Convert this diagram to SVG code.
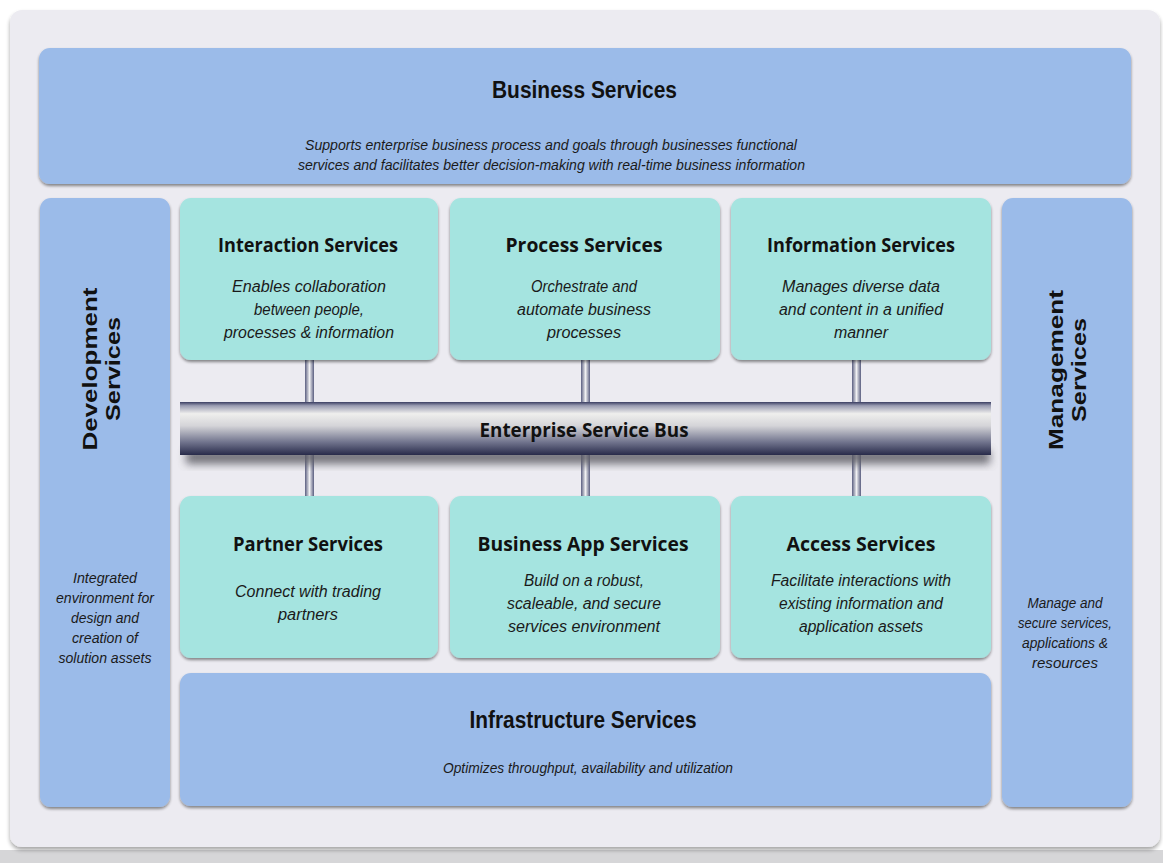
<svg xmlns="http://www.w3.org/2000/svg" width="1163" height="863" viewBox="0 0 1163 863">
  <style>
    .blue { fill: #9bbbe9; }
    .teal { fill: #a5e4e0; }
    .box { filter: url(#boxShadow); }
    .title { font-family: "Liberation Sans", Arial, sans-serif; font-weight: bold; fill: #111; text-anchor: middle; }
    .stitle { font-family: "Open Sans", "Liberation Sans", sans-serif; font-weight: bold; fill: #111; text-anchor: middle; }
    .desc { font-family: "Liberation Sans", Arial, sans-serif; font-style: italic; fill: #1a1a1a; text-anchor: middle; }
  </style>
  <defs>
    <filter id="boxShadow" x="-5%" y="-5%" width="110%" height="115%">
      <feGaussianBlur in="SourceAlpha" stdDeviation="1.5"/>
      <feOffset dx="0" dy="2" result="b"/>
      <feComponentTransfer><feFuncA type="linear" slope="0.45"/></feComponentTransfer>
      <feMerge><feMergeNode/><feMergeNode in="SourceGraphic"/></feMerge>
    </filter>
    <filter id="panelShadow" x="-2%" y="-2%" width="104%" height="106%">
      <feGaussianBlur in="SourceAlpha" stdDeviation="2"/>
      <feOffset dx="0" dy="3"/>
      <feComponentTransfer><feFuncA type="linear" slope="0.35"/></feComponentTransfer>
      <feMerge><feMergeNode/><feMergeNode in="SourceGraphic"/></feMerge>
    </filter>
    <filter id="busShadow" x="-2%" y="-50%" width="104%" height="200%">
      <feGaussianBlur stdDeviation="4"/>
    </filter>
    <linearGradient id="busGrad" x1="0" y1="0" x2="0" y2="1">
      <stop offset="0" stop-color="#3a3e62"/>
      <stop offset="0.07" stop-color="#9a9cb2"/>
      <stop offset="0.22" stop-color="#efefed"/>
      <stop offset="0.45" stop-color="#d4d4d8"/>
      <stop offset="0.75" stop-color="#73768f"/>
      <stop offset="1" stop-color="#282b4a"/>
    </linearGradient>
    <linearGradient id="pipeGrad" x1="0" y1="0" x2="1" y2="0">
      <stop offset="0" stop-color="#5a5e80"/>
      <stop offset="0.5" stop-color="#f0f0f2"/>
      <stop offset="1" stop-color="#5a5e80"/>
    </linearGradient>
  </defs>

  <!-- page and frame -->
  <rect x="0" y="0" width="1163" height="863" fill="#ffffff"/>
  <rect x="0" y="850" width="1163" height="13" fill="#d6d6d8"/>
  <rect x="10" y="10" width="1150" height="837" rx="12" fill="#ecebf1" filter="url(#panelShadow)"/>

  <!-- connectors: service bus and its taps -->
  <g id="connectors">
    <rect x="305" y="360" width="9" height="43" fill="url(#pipeGrad)"/>
    <rect x="581" y="360" width="9" height="43" fill="url(#pipeGrad)"/>
    <rect x="852" y="360" width="9" height="43" fill="url(#pipeGrad)"/>
    <rect x="305" y="455" width="9" height="42" fill="url(#pipeGrad)"/>
    <rect x="581" y="455" width="9" height="42" fill="url(#pipeGrad)"/>
    <rect x="852" y="455" width="9" height="42" fill="url(#pipeGrad)"/>
  </g>

  <g id="bus">
    <rect x="186" y="450" width="804" height="14" fill="#5f5f66" opacity="0.85" filter="url(#busShadow)"/>
    <rect x="180" y="402" width="811" height="53" fill="url(#busGrad)"/>
    <text class="stitle" x="584" y="437" font-size="19" textLength="209" lengthAdjust="spacingAndGlyphs">Enterprise Service Bus</text>
  </g>

  <g id="business-services">
    <rect class="blue box" x="39" y="48" width="1092" height="136" rx="11"/>
    <text class="title" x="584.5" y="98" font-size="23" textLength="185" lengthAdjust="spacingAndGlyphs">Business Services</text>
    <text class="desc" x="551" y="150" font-size="14" textLength="492" lengthAdjust="spacingAndGlyphs">Supports enterprise business process and goals through businesses functional</text>
    <text class="desc" x="551.5" y="170" font-size="14" textLength="507" lengthAdjust="spacingAndGlyphs">services and facilitates better decision-making with real-time business information</text>
  </g>

  <g id="development-services">
    <rect class="blue box" x="40" y="198" width="130" height="609" rx="11"/>
    <text class="title" transform="translate(97 369) rotate(-90)" font-size="21" textLength="163" lengthAdjust="spacingAndGlyphs">Development</text>
    <text class="title" transform="translate(120 369) rotate(-90)" font-size="21" textLength="104" lengthAdjust="spacingAndGlyphs">Services</text>
    <text class="desc" x="105" y="583" font-size="14" textLength="64" lengthAdjust="spacingAndGlyphs">Integrated</text>
    <text class="desc" x="105" y="603" font-size="14" textLength="98" lengthAdjust="spacingAndGlyphs">environment for</text>
    <text class="desc" x="105" y="623" font-size="14" textLength="68" lengthAdjust="spacingAndGlyphs">design and</text>
    <text class="desc" x="105" y="643" font-size="14" textLength="66" lengthAdjust="spacingAndGlyphs">creation of</text>
    <text class="desc" x="105" y="663" font-size="14" textLength="93" lengthAdjust="spacingAndGlyphs">solution assets</text>
  </g>

  <g id="management-services">
    <rect class="blue box" x="1002" y="198" width="130" height="609" rx="11"/>
    <text class="title" transform="translate(1063 370) rotate(-90)" font-size="21" textLength="160" lengthAdjust="spacingAndGlyphs">Management</text>
    <text class="title" transform="translate(1086 370) rotate(-90)" font-size="21" textLength="104" lengthAdjust="spacingAndGlyphs">Services</text>
    <text class="desc" x="1065" y="608" font-size="14" textLength="75" lengthAdjust="spacingAndGlyphs">Manage and</text>
    <text class="desc" x="1065" y="628" font-size="14" textLength="94" lengthAdjust="spacingAndGlyphs">secure services,</text>
    <text class="desc" x="1065" y="648" font-size="14" textLength="86" lengthAdjust="spacingAndGlyphs">applications &amp;</text>
    <text class="desc" x="1065" y="668" font-size="14" textLength="66" lengthAdjust="spacingAndGlyphs">resources</text>
  </g>

  <g id="interaction-services">
    <rect class="teal box" x="180" y="198" width="258" height="162" rx="11"/>
    <text class="stitle" x="308" y="252" font-size="20" textLength="180" lengthAdjust="spacingAndGlyphs">Interaction Services</text>
    <text class="desc" x="309" y="292" font-size="16" textLength="154" lengthAdjust="spacingAndGlyphs">Enables collaboration</text>
    <text class="desc" x="309" y="315" font-size="16" textLength="110" lengthAdjust="spacingAndGlyphs">between people,</text>
    <text class="desc" x="309" y="338" font-size="16" textLength="170" lengthAdjust="spacingAndGlyphs">processes &amp; information</text>
  </g>

  <g id="process-services">
    <rect class="teal box" x="450" y="198" width="270" height="162" rx="11"/>
    <text class="stitle" x="584" y="252" font-size="20" textLength="157" lengthAdjust="spacingAndGlyphs">Process Services</text>
    <text class="desc" x="584" y="292" font-size="16" textLength="106" lengthAdjust="spacingAndGlyphs">Orchestrate and</text>
    <text class="desc" x="584" y="315" font-size="16" textLength="134" lengthAdjust="spacingAndGlyphs">automate business</text>
    <text class="desc" x="584" y="338" font-size="16" textLength="74" lengthAdjust="spacingAndGlyphs">processes</text>
  </g>

  <g id="information-services">
    <rect class="teal box" x="731" y="198" width="260" height="162" rx="11"/>
    <text class="stitle" x="861" y="252" font-size="20" textLength="188" lengthAdjust="spacingAndGlyphs">Information Services</text>
    <text class="desc" x="861" y="292" font-size="16" textLength="158" lengthAdjust="spacingAndGlyphs">Manages diverse data</text>
    <text class="desc" x="861" y="315" font-size="16" textLength="164" lengthAdjust="spacingAndGlyphs">and content in a unified</text>
    <text class="desc" x="861" y="338" font-size="16" textLength="54" lengthAdjust="spacingAndGlyphs">manner</text>
  </g>

  <g id="partner-services">
    <rect class="teal box" x="180" y="496" width="258" height="162" rx="11"/>
    <text class="stitle" x="308" y="551" font-size="20" textLength="150" lengthAdjust="spacingAndGlyphs">Partner Services</text>
    <text class="desc" x="308" y="597" font-size="16" textLength="146" lengthAdjust="spacingAndGlyphs">Connect with trading</text>
    <text class="desc" x="308" y="620" font-size="16" textLength="60" lengthAdjust="spacingAndGlyphs">partners</text>
  </g>

  <g id="business-app-services">
    <rect class="teal box" x="450" y="496" width="270" height="162" rx="11"/>
    <text class="stitle" x="583" y="551" font-size="20" textLength="211" lengthAdjust="spacingAndGlyphs">Business App Services</text>
    <text class="desc" x="584" y="586" font-size="16" textLength="120" lengthAdjust="spacingAndGlyphs">Build on a robust,</text>
    <text class="desc" x="584" y="609" font-size="16" textLength="154" lengthAdjust="spacingAndGlyphs">scaleable, and secure</text>
    <text class="desc" x="584" y="632" font-size="16" textLength="152" lengthAdjust="spacingAndGlyphs">services environment</text>
  </g>

  <g id="access-services">
    <rect class="teal box" x="731" y="496" width="260" height="162" rx="11"/>
    <text class="stitle" x="861" y="551" font-size="20" textLength="149" lengthAdjust="spacingAndGlyphs">Access Services</text>
    <text class="desc" x="861" y="586" font-size="16" textLength="180" lengthAdjust="spacingAndGlyphs">Facilitate interactions with</text>
    <text class="desc" x="861" y="609" font-size="16" textLength="164" lengthAdjust="spacingAndGlyphs">existing information and</text>
    <text class="desc" x="861" y="632" font-size="16" textLength="124" lengthAdjust="spacingAndGlyphs">application assets</text>
  </g>

  <g id="infrastructure-services">
    <rect class="blue box" x="180" y="673" width="811" height="133" rx="11"/>
    <text class="title" x="583" y="728" font-size="23" textLength="227" lengthAdjust="spacingAndGlyphs">Infrastructure Services</text>
    <text class="desc" x="588" y="773" font-size="14" textLength="290" lengthAdjust="spacingAndGlyphs">Optimizes throughput, availability and utilization</text>
  </g>
</svg>
